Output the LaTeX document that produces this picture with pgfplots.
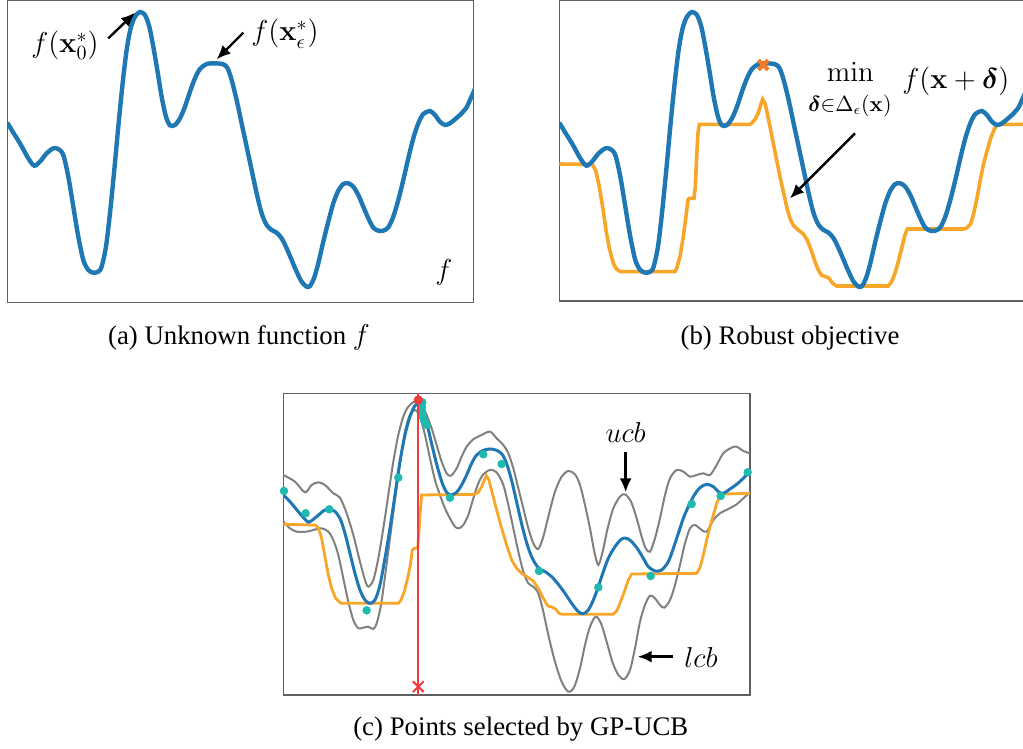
\documentclass[border=0pt]{standalone}
\usepackage{amsmath,bm}
\usepackage{pgfplots}
\usepackage{pgfplotstable}
\pgfplotsset{compat=1.18}
\usepackage[no-math]{fontspec}
\setmainfont{Liberation Serif}
\usetikzlibrary{arrows.meta}
\definecolor{fblue}{RGB}{31,119,180}
\definecolor{forange}{RGB}{247,166,41}
\definecolor{xorange}{RGB}{242,122,40}
\definecolor{tealdot}{RGB}{30,185,175}
\definecolor{framegray}{RGB}{95,95,95}
\definecolor{bandgray}{RGB}{128,128,128}
\definecolor{redl}{RGB}{240,60,60}

\pgfplotstableread{
x y
22 368
40 398
60 430
85 475
103 497
120 485
140 460
160 445
175 447
190 465
205 530
220 620
235 710
250 780
265 810
280 818
295 815
305 800
318 740
330 640
342 520
355 380
368 250
380 150
392 85
405 50
420 36
435 45
448 80
460 140
472 210
485 290
498 350
510 376
525 375
540 355
555 320
570 275
585 235
600 207
620 192
645 190
670 193
683 205
695 240
710 300
725 370
740 440
755 510
770 580
785 640
800 675
815 690
830 698
845 715
860 745
875 780
890 815
905 845
920 860
930 858
942 835
955 790
970 725
985 665
1000 610
1015 572
1030 552
1045 550
1060 560
1075 585
1090 620
1105 655
1120 683
1135 692
1150 692
1165 682
1180 650
1195 600
1210 540
1225 475
1240 415
1255 370
1270 342
1290 333
1305 345
1320 365
1335 375
1350 370
1365 358
1385 340
1400 322
1410 300
1420 278
1432 250
}\ftable

\pgfplotstableread{
x y
28 492
125 493
130 497
138 515
148 560
158 620
168 690
178 745
190 790
200 808
212 815
375 815
380 805
390 770
400 710
408 650
414 600
418 595
432 595
436 560
440 470
444 400
448 373
600 373
605 370
615 358
625 338
632 315
638 298
645 310
652 340
660 380
670 430
680 480
690 530
700 575
710 620
720 655
730 676
745 690
760 702
772 720
785 755
795 785
805 810
815 826
828 830
838 835
848 850
860 858
1015 858
1025 845
1035 820
1045 785
1055 745
1065 705
1072 687
1240 687
1250 684
1262 672
1270 645
1280 600
1290 545
1300 495
1312 450
1322 415
1332 390
1340 375
1348 373
1430 373
}\robtable

\pgfplotstableread{
x y
25 330
45 350
70 380
95 408
105 410
125 395
145 378
160 372
178 378
195 400
210 445
225 505
240 565
255 615
270 645
285 655
300 645
315 600
330 520
345 430
360 330
375 230
390 150
405 95
420 62
432 58
445 80
458 125
472 185
487 245
502 295
515 322
528 330
545 322
560 300
575 270
590 235
605 210
625 196
645 192
665 196
683 210
698 245
712 295
727 360
742 425
757 480
772 520
790 548
810 560
830 575
850 598
870 625
890 655
910 680
925 686
940 675
955 645
970 605
985 560
1000 520
1020 485
1040 462
1055 460
1070 470
1088 492
1105 520
1120 545
1140 558
1160 555
1180 530
1195 490
1210 445
1225 400
1240 365
1258 330
1275 308
1295 298
1315 305
1330 320
1345 325
1365 312
1385 298
1405 280
1425 258
}\meantable

\pgfplotstableread{
x y
25 270
60 290
90 322
110 300
130 292
150 300
175 325
195 338
215 385
235 450
255 530
270 585
280 605
295 585
310 520
325 430
340 330
355 230
370 150
385 95
400 65
420 50
440 62
455 90
470 130
485 180
500 230
515 265
528 272
545 250
560 215
575 185
595 163
620 150
645 140
665 160
685 180
700 205
715 250
730 310
745 370
760 430
775 475
790 492
805 455
820 395
840 320
860 275
880 258
900 268
915 300
930 360
945 430
958 500
970 540
983 500
998 430
1015 370
1035 335
1050 328
1068 350
1085 400
1100 455
1112 490
1125 500
1140 460
1155 400
1170 330
1185 280
1205 255
1225 260
1245 275
1265 270
1285 265
1305 270
1325 240
1345 205
1370 188
1385 185
1405 198
1425 205
}\ucbtable

\pgfplotstableread{
x y
25 410
45 430
65 440
95 440
115 435
140 430
160 440
175 465
190 510
205 580
220 650
235 705
250 730
265 728
280 725
295 732
305 715
318 660
332 560
345 460
360 345
375 235
390 140
405 90
420 75
435 95
450 150
465 220
480 285
495 330
510 370
525 400
540 425
552 430
565 420
580 390
595 340
610 295
625 268
645 255
665 262
685 300
700 360
715 430
730 500
745 560
760 595
775 605
790 625
805 680
820 750
840 830
860 890
880 920
898 905
915 850
930 780
945 725
962 695
978 715
995 770
1012 830
1030 870
1048 882
1065 855
1080 790
1095 710
1110 660
1125 632
1140 640
1155 660
1168 668
1185 645
1200 600
1215 540
1230 475
1245 430
1260 420
1280 435
1295 440
1315 405
1335 385
1360 372
1385 358
1405 340
1425 322
}\lcbtable

\pgfplotstableread{
x y
25 418
120 420
130 428
140 460
150 515
160 570
170 610
182 640
198 655
370 655
378 645
388 620
398 580
406 540
412 495
418 490
428 490
432 440
436 380
440 330
600 328
610 322
620 305
628 285
634 272
642 285
652 325
665 375
680 430
695 480
710 525
725 550
740 565
760 578
775 588
790 610
805 640
818 662
830 666
842 672
852 685
862 688
1015 688
1025 678
1035 655
1048 620
1060 585
1070 567
1265 565
1275 548
1285 510
1295 465
1305 425
1315 390
1325 355
1335 332
1345 327
1425 325
}\robctable

\pgfplotstableread{
x y
27 318
92 385
163 373
275 676
370 278
442 52
441 66
441 80
443 94
448 108
455 120
525 338
625 208
680 237
792 558
970 607
1127 573
1250 357
1337 333
1418 262
}\pointstable

\pgfplotsset{
  panel/.style={
    scale only axis,
    xtick=\empty, ytick=\empty,
    y dir=reverse,
    axis line style={draw=framegray, line width=0.6pt},
    clip mode=individual,
  },
}

\begin{document}
\begin{tikzpicture}
\useasboundingbox (0,0) rectangle (511.5pt,-374.5pt);

% (a)
\begin{axis}[panel, at={(3.65pt,-0.25pt)}, anchor=north west,
  width=233pt, height=150.9pt,
  xmin=22, xmax=1420, ymin=1.5, ymax=907]
\addplot[fblue, line width=2.2pt, smooth, tension=0.5] table {\ftable};
\node[font=\fontsize{14}{16}\selectfont, anchor=base] at (axis cs:195,158) {$f(\mathbf{x}_0^*)$};
\node[font=\fontsize{14}{16}\selectfont, anchor=base] at (axis cs:855,123) {$f(\mathbf{x}_\epsilon^*)$};
\node[font=\fontsize{14}{16}\selectfont, anchor=base] at (axis cs:1332,840) {$f$};
\draw[-{Latex[length=7pt,width=6pt]}, line width=1.2pt] (axis cs:325,115) -- (axis cs:405,38);
\draw[-{Latex[length=7pt,width=6pt]}, line width=1.2pt] (axis cs:730,98) -- (axis cs:650,178);
\end{axis}

% (b)
\begin{axis}[panel, at={(279.65pt,-0.25pt)}, anchor=north west,
  width=233pt, height=150.25pt,
  xmin=28, xmax=1426, ymin=1.5, ymax=903]
\addplot[forange, line width=1.8pt] table {\robtable};
\addplot[fblue, line width=2.2pt, smooth, tension=0.5] table[x expr=\thisrowno{0}+6, y index=1] {\ftable};
\addplot[xorange, only marks, mark=x, mark size=3.4pt, line width=2pt] coordinates {(640,195)};
\node[font=\fontsize{14}{16}\selectfont, anchor=base, inner sep=0pt] at (axis cs:901,245) {$\min$};
\node[font=\fontsize{10.5}{12}\selectfont, anchor=base, inner sep=0pt] at (axis cs:900,335) {$\bm{\delta}\mathord{\in}\Delta_\epsilon(\mathbf{x})$};
\node[font=\fontsize{15}{17}\selectfont, anchor=base west, inner sep=0pt] at (axis cs:1056,264) {$f(\mathbf{x}+\bm{\delta})$};
\draw[-{Latex[length=7pt,width=6pt]}, line width=1.2pt] (axis cs:915,400) -- (axis cs:720,595);
\end{axis}

% (c)
\begin{axis}[panel, at={(141.65pt,-196.65pt)}, anchor=north west,
  width=233.35pt, height=150.85pt,
  xmin=25, xmax=1425, ymin=25, ymax=930]
\addplot[bandgray, line width=1pt, smooth, tension=0.5] table {\ucbtable};
\addplot[bandgray, line width=1pt, smooth, tension=0.5] table {\lcbtable};
\addplot[forange, line width=1.4pt] table {\robctable};
\addplot[fblue, line width=1.5pt, smooth, tension=0.5] table {\meantable};
\addplot[tealdot, only marks, mark=*, mark size=1.9pt] table {\pointstable};
\addplot[redl, line width=1pt] coordinates {(430,2) (430,930)};
\addplot[redl, only marks, mark=*, mark size=2.1pt] coordinates {(430,45)};
\addplot[redl, only marks, mark=x, mark size=3.8pt, line width=1pt] coordinates {(430,905)};
\node[font=\fontsize{14}{16}\selectfont, anchor=base] at (axis cs:1052,172) {$ucb$};
\node[font=\fontsize{14}{16}\selectfont, anchor=base] at (axis cs:1278,847) {$lcb$};
\draw[-{Latex[length=7pt,width=6pt]}, line width=1.2pt] (axis cs:1052,200) -- (axis cs:1052,322);
\draw[-{Latex[length=7pt,width=6pt]}, line width=1.2pt] (axis cs:1195,815) -- (axis cs:1088,815);
\end{axis}

\node[anchor=base, font=\fontsize{13.4}{16}\selectfont] at (119.5pt,-172pt) {(a) Unknown function $f$};
\node[anchor=base, font=\fontsize{13.4}{16}\selectfont] at (395pt,-172pt) {(b) Robust objective};
\node[anchor=base, font=\fontsize{13.4}{16}\selectfont] at (260.4pt,-367.8pt) {(c) Points selected by GP-UCB};
\end{tikzpicture}
\end{document}
